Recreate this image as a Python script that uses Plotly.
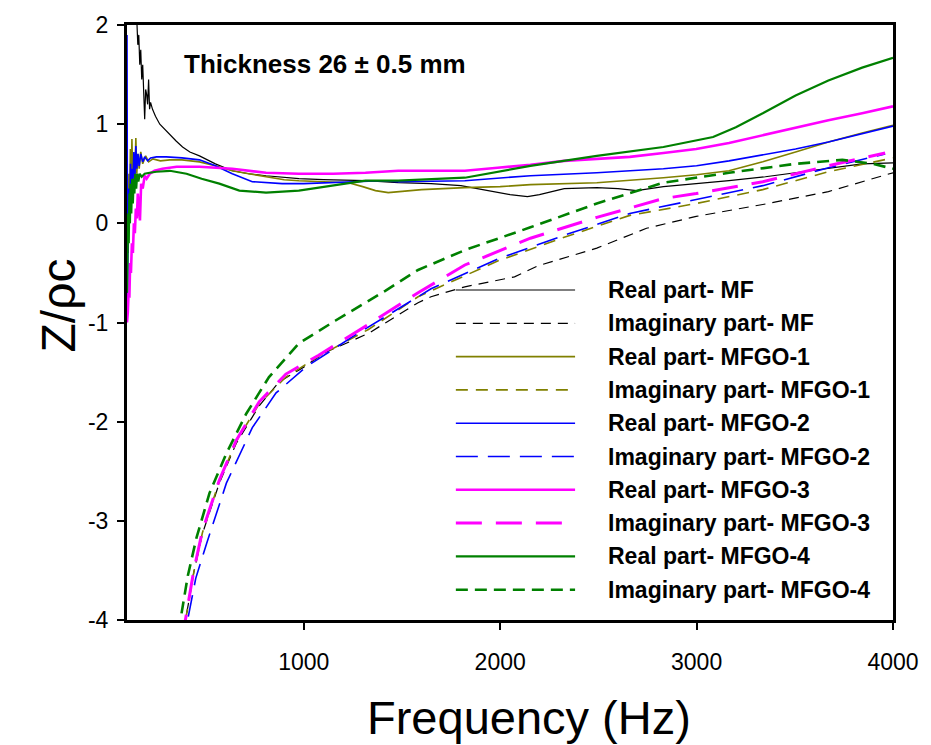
import plotly.graph_objects as go

# ---------------- data ----------------
f_re_mf = [150, 155, 160, 165, 170, 175, 180, 185, 190, 195, 200, 205, 210, 215, 220, 230, 245, 267, 290, 318,
           350, 383, 420, 469, 550, 636, 720, 808, 900, 975, 1100, 1314, 1481, 1648, 1800, 1950, 2050, 2139,
           2200, 2326, 2492, 2600, 2695, 2831, 3000, 3165, 3350, 3504, 3671, 3843, 4000]
re_mf = [2.05, 1.8, 1.9, 1.6, 1.75, 1.45, 1.6, 1.3, 1.05, 1.35, 1.3, 1.2, 1.45, 1.15, 1.22, 1.15, 1.08, 1.0, 0.95, 0.9,
         0.83, 0.77, 0.72, 0.68, 0.6, 0.53, 0.5, 0.48, 0.46, 0.45, 0.44, 0.43, 0.41, 0.40, 0.38, 0.33, 0.29, 0.27,
         0.29, 0.35, 0.36, 0.35, 0.33, 0.37, 0.40, 0.43, 0.47, 0.51, 0.56, 0.60, 0.61]

f_re_1 = [100, 103, 106, 110, 113, 117, 121, 125, 130, 135, 140, 145, 150, 155, 162, 170, 180, 195, 210, 232,
          270, 318, 380, 469, 550, 636, 720, 808, 900, 975, 1100, 1228, 1300, 1365, 1430, 1481, 1600, 1820,
          2000, 2154, 2492, 2831, 3000, 3165, 3337, 3504, 3671, 3843, 4000]
re_1 = [-0.5, 0.2, -0.3, 0.5, 0.1, 0.75, 0.3, 0.85, 0.4, 0.7, 0.45, 0.86, 0.5, 0.7, 0.55, 0.72, 0.6, 0.68, 0.62, 0.65,
        0.63, 0.64, 0.64, 0.62, 0.58, 0.53, 0.5, 0.47, 0.44, 0.43, 0.42, 0.41, 0.37, 0.33, 0.31, 0.32, 0.34, 0.36,
        0.37, 0.39, 0.41, 0.46, 0.49, 0.53, 0.62, 0.72, 0.82, 0.91, 0.99]

f_re_2 = [100, 101, 103, 106, 110, 114, 118, 122, 126, 130, 135, 140, 145, 150, 156, 162, 170, 180, 190, 205,
          220, 250, 300, 380, 469, 550, 636, 738, 890, 1000, 1142, 1395, 1481, 1820, 2154, 2492, 2831, 3000,
          3165, 3337, 3504, 3671, 3843, 4000]
re_2 = [1.9, 0.5, -0.8, 0.2, 0.35, 0.0, 0.6, 0.3, 0.55, 0.4, 0.72, 0.45, 0.78, 0.55, 0.7, 0.58, 0.7, 0.62, 0.67, 0.63,
        0.66, 0.67, 0.67, 0.66, 0.64, 0.58, 0.5, 0.42, 0.40, 0.40, 0.41, 0.43, 0.42, 0.43, 0.48, 0.51, 0.55, 0.58,
        0.63, 0.69, 0.75, 0.82, 0.90, 0.98]

f_re_3 = [100, 104, 108, 112, 116, 120, 125, 130, 135, 140, 145, 150, 155, 160, 166, 172, 180, 190, 200, 216,
          240, 280, 318, 353, 469, 636, 808, 975, 1150, 1314, 1481, 1820, 1987, 2154, 2326, 2492, 2660, 2831,
          2998, 3165, 3337, 3504, 3671, 3843, 4000]
re_3 = [-1.0, -0.9, -0.7, -0.75, -0.4, -0.5, -0.2, -0.3, 0.0, -0.1, 0.15, 0.05, 0.3, 0.2, 0.03, 0.4, 0.35, 0.48, 0.45, 0.5,
        0.53, 0.55, 0.56, 0.57, 0.57, 0.55, 0.51, 0.50, 0.50, 0.51, 0.53, 0.53, 0.56, 0.59, 0.63, 0.65, 0.67, 0.71,
        0.75, 0.81, 0.89, 0.97, 1.04, 1.11, 1.18]

f_re_4 = [100, 103, 106, 109, 112, 115, 118, 122, 126, 130, 134, 138, 142, 147, 152, 158, 165, 175, 190, 215,
          250, 318, 403, 480, 570, 672, 808, 975, 1142, 1314, 1481, 1820, 2154, 2492, 2831, 3084, 3200, 3337,
          3504, 3671, 3843, 4000]
re_4 = [-0.7, -0.3, 0.1, -0.2, 0.3, 0.0, 0.4, 0.1, 0.45, 0.2, 0.45, 0.3, 0.5, 0.35, 0.5, 0.42, 0.5, 0.47, 0.5, 0.51,
        0.52, 0.53, 0.5, 0.45, 0.40, 0.33, 0.31, 0.33, 0.38, 0.43, 0.43, 0.46, 0.58, 0.68, 0.77, 0.87, 0.97, 1.11,
        1.29, 1.44, 1.57, 1.67]

f_im_mf = [340, 400, 440, 484, 570, 656, 773, 874, 1000, 1112, 1329, 1582, 1648, 1820, 2073, 2190, 2492, 2745,
           2998, 3337, 3671, 4000]
im_mf = [-4.6, -3.98, -3.52, -3.13, -2.62, -2.22, -1.84, -1.60, -1.45, -1.30, -1.11, -0.80, -0.74, -0.64, -0.54,
         -0.43, -0.25, -0.05, 0.07, 0.19, 0.32, 0.51]

f_im_1 = [340, 400, 440, 484, 570, 656, 773, 909, 1076, 1329, 1582, 1987, 2326, 2660, 2998, 3337, 3671, 4000]
im_1 = [-4.6, -3.98, -3.52, -3.12, -2.60, -2.20, -1.82, -1.55, -1.34, -1.07, -0.74, -0.38, -0.14, 0.08, 0.20,
        0.34, 0.52, 0.66]

f_im_2 = [350, 409, 450, 505, 606, 738, 859, 1010, 1243, 1582, 1648, 1987, 2326, 2660, 2998, 3337, 3671, 3960]
im_2 = [-4.6, -3.98, -3.58, -3.23, -2.62, -2.06, -1.71, -1.45, -1.15, -0.74, -0.66, -0.36, -0.12, 0.10, 0.24,
        0.38, 0.56, 0.70]

f_im_3 = [340, 399, 440, 484, 570, 656, 773, 909, 1076, 1329, 1582, 1820, 2154, 2492, 2831, 2998, 3337, 3671, 3960]
im_3 = [-4.6, -3.98, -3.5, -3.10, -2.59, -2.19, -1.80, -1.52, -1.33, -1.02, -0.70, -0.42, -0.15, 0.06, 0.25,
        0.30, 0.42, 0.58, 0.71]

f_im_4 = [330, 373, 410, 454, 520, 606, 707, 823, 975, 1162, 1415, 1582, 1820, 2154, 2492, 2831, 3165, 3504,
          3742, 3900, 4000]
im_4 = [-4.5, -3.98, -3.55, -3.17, -2.72, -2.32, -1.92, -1.55, -1.21, -0.98, -0.68, -0.47, -0.27, -0.04, 0.20,
        0.41, 0.51, 0.60, 0.64, 0.60, 0.55]

x_ticks = [1000, 2000, 3000, 4000]
y_ticks = [-4, -3, -2, -1, 0, 1, 2]

series = [
    ("Real part- MF", f_re_mf, re_mf, "#000000", 1.2, "solid"),
    ("Imaginary part- MF", f_im_mf, im_mf, "#000000", 1.2, "10px,7px"),
    ("Real part- MFGO-1", f_re_1, re_1, "#808000", 1.6, "solid"),
    ("Imaginary part- MFGO-1", f_im_1, im_1, "#808000", 1.6, "12px,8px"),
    ("Real part- MFGO-2", f_re_2, re_2, "#0000FF", 1.6, "solid"),
    ("Imaginary part- MFGO-2", f_im_2, im_2, "#0000FF", 1.6, "22px,10px"),
    ("Real part- MFGO-3", f_re_3, re_3, "#FF00FF", 2.6, "solid"),
    ("Imaginary part- MFGO-3", f_im_3, im_3, "#FF00FF", 3.0, "26px,14px"),
    ("Real part- MFGO-4", f_re_4, re_4, "#008000", 2.2, "solid"),
    ("Imaginary part- MFGO-4", f_im_4, im_4, "#008000", 2.6, "12px,7px"),
]

FONT = "Liberation Sans, Arial, sans-serif"
W, H = 931, 745
L, R, T, B = 127, 33, 25, 125
PW, PH = W - L - R, H - T - B


def px(xpix):
    return (xpix - L) / PW


def py(ypix):
    return (H - B - ypix) / PH


fig = go.Figure()
for name, fx, fy, col, wd, dash in series:
    fig.add_trace(go.Scatter(x=fx, y=fy, mode="lines", name=name, showlegend=False,
                             line=dict(color=col, width=wd, dash=dash)))

# manual legend (long sample lines as in the reference)
shapes = []
annotations = []
for i, (name, fx, fy, col, wd, dash) in enumerate(series):
    yy = py(290 + i * 33.3)
    shapes.append(dict(type="line", xref="paper", yref="paper", x0=px(458), x1=px(578), y0=yy, y1=yy,
                       line=dict(color=col, width=wd, dash=dash)))
    annotations.append(dict(xref="paper", yref="paper", x=px(609), y=yy, text=name, showarrow=False,
                            xanchor="left", yanchor="middle",
                            font=dict(family=FONT, size=23, color="black", weight="bold")))

annotations.append(dict(xref="paper", yref="paper", x=px(182), y=py(64), text="Thickness 26 ± 0.5 mm",
                        showarrow=False, xanchor="left", yanchor="middle",
                        font=dict(family=FONT, size=26, color="black", weight="bold")))
annotations.append(dict(xref="paper", yref="paper", x=px(532), y=py(717), text="Frequency (Hz)",
                        showarrow=False, xanchor="center", yanchor="middle",
                        font=dict(family=FONT, size=47, color="black")))
annotations.append(dict(xref="paper", yref="paper", x=px(58), y=py(305), text="Z/ρc", textangle=-90,
                        showarrow=False, xanchor="center", yanchor="middle",
                        font=dict(family=FONT, size=48, color="black")))

fig.update_layout(
    width=W, height=H,
    margin=dict(l=L, r=R, t=T, b=B),
    paper_bgcolor="white", plot_bgcolor="white",
    showlegend=False,
    shapes=shapes, annotations=annotations,
    font=dict(family=FONT, color="black"),
)
fig.update_xaxes(range=[100, 4000], tickvals=x_ticks, ticktext=[str(v) for v in x_ticks],
                 showgrid=False, zeroline=False, showline=True, linecolor="black", linewidth=3, mirror=True,
                 ticks="outside", ticklen=7, tickwidth=1.5, tickcolor="black",
                 tickfont=dict(family=FONT, size=23, color="black"), ticklabelstandoff=12)
fig.update_yaxes(range=[-4, 2], tickvals=y_ticks, ticktext=[str(v) for v in y_ticks],
                 showgrid=False, zeroline=False, showline=True, linecolor="black", linewidth=3, mirror=True,
                 ticks="outside", ticklen=7, tickwidth=1.5, tickcolor="black",
                 tickfont=dict(family=FONT, size=23, color="black"), ticklabelstandoff=4)

fig.write_html("out.html")
